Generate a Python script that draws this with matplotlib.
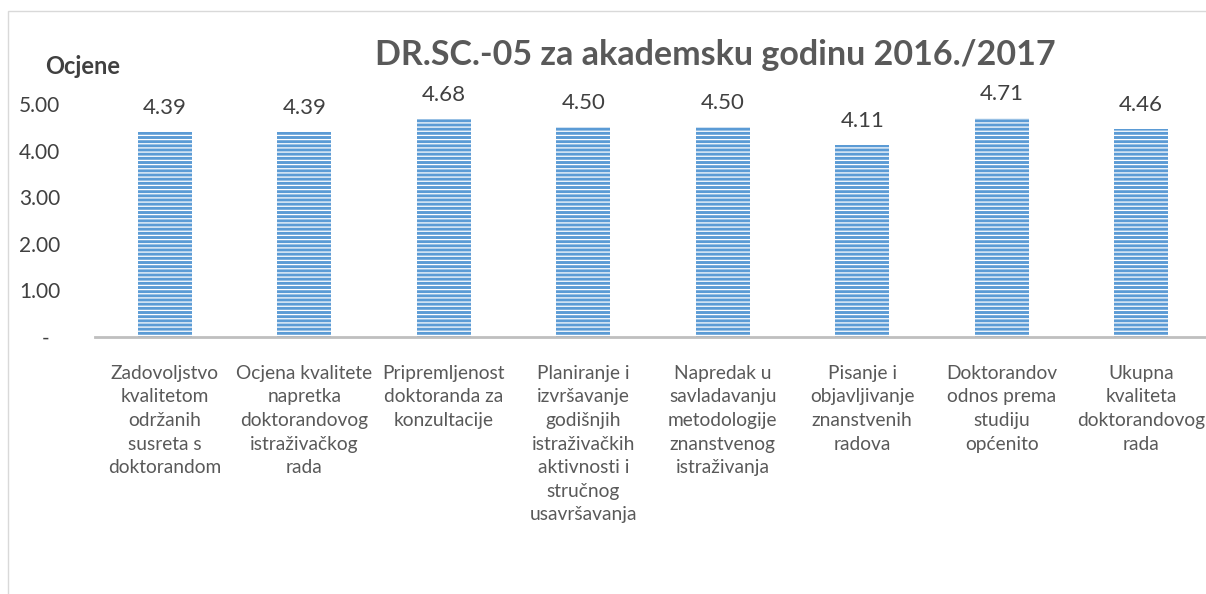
import matplotlib
matplotlib.use('Agg')
import matplotlib.pyplot as plt
from matplotlib.patches import Rectangle

categories = [
    'Zadovoljstvo\nkvalitetom\nodržanih\nsusreta s\ndoktorandom',
    'Ocjena kvalitete\nnapretka\ndoktorandovog\nistraživačkog\nrada',
    'Pripremljenost\ndoktoranda za\nkonzultacije',
    'Planiranje i\nizvršavanje\ngodišnjih\nistraživačkih\naktivnosti i\nstručnog\nusavršavanja',
    'Napredak u\nsavladavanju\nmetodologije\nznanstvenog\nistraživanja',
    'Pisanje i\nobjavljivanje\nznanstvenih\nradova',
    'Doktorandov\nodnos prema\nstudiju\nopćenito',
    'Ukupna\nkvaliteta\ndoktorandovog\nrada',
]
scores = [4.39, 4.39, 4.68, 4.50, 4.50, 4.11, 4.71, 4.46]
yticks = [0, 1, 2, 3, 4, 5]
ytick_labels = ['-  ', '1.00', '2.00', '3.00', '4.00', '5.00']

plt.rcParams['font.family'] = ['Lato', 'DejaVu Sans']
plt.rcParams['hatch.linewidth'] = 0.9

fig = plt.figure(figsize=(12.06, 5.94), dpi=100)
ax = fig.add_axes([95 / 1206, 1 - 337 / 594, 1116 / 1206, 233 / 594])

x = range(len(scores))
bars = ax.bar(x, scores, width=0.39, color='#5B9BD5', edgecolor='white',
              linewidth=0, hatch='----')
for xi, v in zip(x, scores):
    ax.text(xi, v + 0.3, '%.2f' % v, ha='center', va='bottom',
            fontsize=16, color='#404040')

ax.set_xlim(-0.5, 7.5)
ax.set_ylim(0, 5)
ax.set_yticks(yticks)
ax.set_yticklabels(ytick_labels, fontsize=15, color='#404040')
ax.set_xticks(list(x))
ax.set_xticklabels(categories, fontsize=13.8, color='#595959', linespacing=1.47,
                   va='top')
ax.tick_params(axis='y', length=0, pad=25)
ax.tick_params(axis='x', length=0, pad=20)

for s in ['top', 'right', 'left']:
    ax.spines[s].set_visible(False)
ax.spines['bottom'].set_color('#BFBFBF')
ax.spines['bottom'].set_linewidth(2)

fig.text(715 / 1206, 1 - 55 / 594, 'DR.SC.-05 za akademsku godinu 2016./2017',
         ha='center', va='center', fontsize=24.5, fontweight='bold', color='#595959')
fig.text(45 / 1206, 1 - 67 / 594, 'Ocjene', ha='left', va='center',
         fontsize=17, fontweight='bold', color='#404040')

fig.patches.append(Rectangle((8 / 1206, -0.1), 1.2, 1 - 11 / 594 + 0.1,
                             transform=fig.transFigure, fill=False,
                             edgecolor='#D9D9D9', linewidth=1))

fig.savefig('out.png', dpi=100)
